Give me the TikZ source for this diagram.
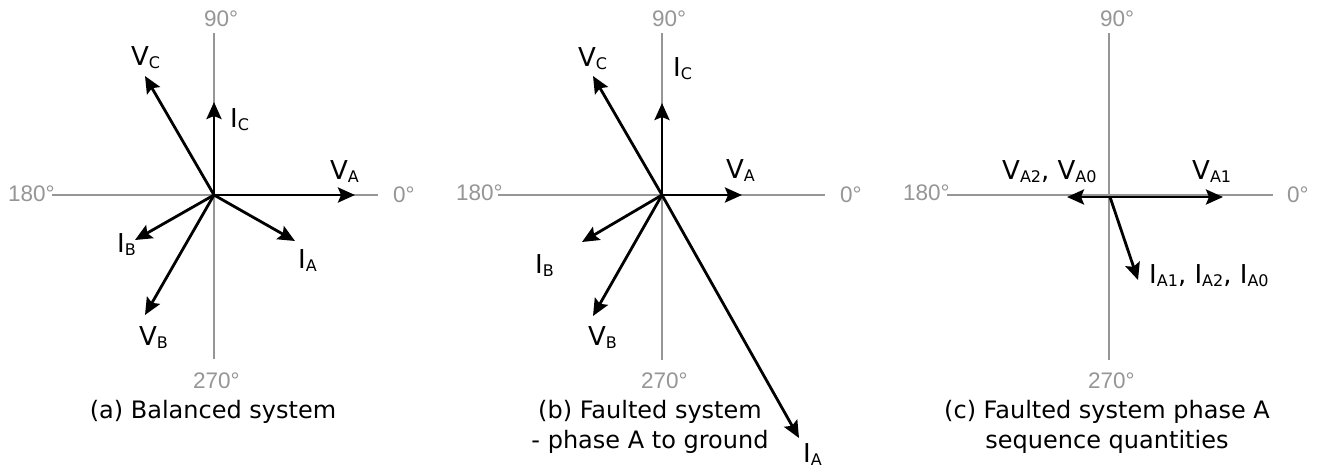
\documentclass[tikz,border=0pt]{standalone}
\usepackage{fontspec}
\setmainfont{DejaVu Sans}
\newfontfamily\degfont{Liberation Sans}
\usetikzlibrary{arrows.meta}
\definecolor{axgray}{RGB}{150,150,150}
\newcommand\phs[2]{#1\raisebox{-3.3pt}{\fontsize{16}{16}\selectfont #2}}
\begin{document}
\begin{tikzpicture}[x=1pt,y=-1pt,
  axis/.style={draw=axgray,line width=1.2pt},
  deg/.style={anchor=base west,inner sep=0pt,text=axgray,font=\degfont\fontsize{22.5}{22.5}\selectfont},
  lab/.style={anchor=base west,inner sep=0pt,font=\fontsize{26}{26}\selectfont},
  captxt/.style={anchor=base,inner sep=0pt,font=\fontsize{24}{24}\selectfont},
  phasor/.style={line width=2.8pt,-{Stealth[length=17pt,width=15pt,inset=3pt]}}]
\useasboundingbox[fill=white] (0,0) rectangle (1319,467);

% ---------------- (a) ----------------
\coordinate (aL) at (52,195); \coordinate (aR) at (378,195);
\coordinate (aT) at (214,33); \coordinate (aB) at (214,359);
\coordinate (oa) at (214,195);
\draw[axis] (aL) -- (aR);
\draw[axis] (aT) -- (aB);
\node[deg] (a90) at (204,26) {90°};
\node[deg] (a180) at (8,201) {180°};
\node[deg] (a0) at (393,202) {0°};
\node[deg] (a270) at (193,388) {270°};
\coordinate (aVA) at (355,195);
\coordinate (aVC) at (145,76);
\coordinate (aIC) at (214,102);
\coordinate (aIA) at (295,241);
\coordinate (aIB) at (135,240);
\coordinate (aVB) at (145,315);
\draw[phasor] (oa) -- (aVA);
\draw[phasor] (oa) -- (aVC);
\draw[phasor] (oa) -- (aIC);
\draw[phasor] (oa) -- (aIA);
\draw[phasor] (oa) -- (aIB);
\draw[phasor] (oa) -- (aVB);
\node[lab] (laVC) at (131,65) {\phs{V}{C}};
\node[lab] (laIC) at (230,127) {\phs{I}{C}};
\node[lab] (laVA) at (330,179) {\phs{V}{A}};
\node[lab] (laIA) at (298,268) {\phs{I}{A}};
\node[lab] (laIB) at (117,252) {\phs{I}{B}};
\node[lab] (laVB) at (139,345) {\phs{V}{B}};
\node[captxt] (capa) at (213,418) {(a) Balanced system};

% ---------------- (b) ----------------
\coordinate (bL) at (498,195); \coordinate (bR) at (825,195);
\coordinate (bT) at (662,33); \coordinate (bB) at (662,360);
\coordinate (ob) at (662,195);
\draw[axis] (bL) -- (bR);
\draw[axis] (bT) -- (bB);
\node[deg] (b90) at (652,26) {90°};
\node[deg] (b180) at (456,200) {180°};
\node[deg] (b0) at (840,202) {0°};
\node[deg] (b270) at (641,388) {270°};
\coordinate (bVA) at (742,195);
\coordinate (bVC) at (593,76);
\coordinate (bIC) at (662,103);
\coordinate (bIA) at (799,438);
\coordinate (bIB) at (582,242);
\coordinate (bVB) at (593,316);
\draw[phasor] (ob) -- (bVA);
\draw[phasor] (ob) -- (bVC);
\draw[phasor] (ob) -- (bIC);
\draw[phasor] (ob) -- (bIA);
\draw[phasor] (ob) -- (bIB);
\draw[phasor] (ob) -- (bVB);
\node[lab] (lbVC) at (578,66) {\phs{V}{C}};
\node[lab] (lbIC) at (673,76) {\phs{I}{C}};
\node[lab] (lbVA) at (726,178) {\phs{V}{A}};
\node[lab] (lbIB) at (535,273) {\phs{I}{B}};
\node[lab] (lbVB) at (588,345) {\phs{V}{B}};
\node[lab] (lbIA) at (803,462) {\phs{I}{A}};
\node[captxt] (capb1) at (650,418) {(b) Faulted system};
\node[captxt] (capb2) at (650,448) {- phase A to ground};

% ---------------- (c) ----------------
\coordinate (cL) at (947,195); \coordinate (cR) at (1273,195);
\coordinate (cT) at (1109,33); \coordinate (cB) at (1109,360);
\coordinate (oc) at (1110,197);
\draw[axis] (cL) -- (cR);
\draw[axis] (cT) -- (cB);
\node[deg] (c90) at (1100,26) {90°};
\node[deg] (c180) at (903,200) {180°};
\node[deg] (c0) at (1287,202) {0°};
\node[deg] (c270) at (1088,388) {270°};
\coordinate (cVA1) at (1223,197);
\coordinate (cVA2) at (1067,197);
\coordinate (cIA) at (1138,280);
\draw[phasor] (oc) -- (cVA1);
\draw[phasor] (oc) -- (cVA2);
\draw[phasor] (oc) -- (cIA);
\node[lab] (lcV2) at (1002,179) {\phs{V}{A2}, \phs{V}{A0}};
\node[lab] (lcV1) at (1192,179) {\phs{V}{A1}};
\node[lab] (lcI) at (1149,283) {\phs{I}{A1}, \phs{I}{A2}, \phs{I}{A0}};
\node[captxt] (capc1) at (1107,418) {(c) Faulted system phase A};
\node[captxt] (capc2) at (1107,448) {sequence quantities};
\end{tikzpicture}
\end{document}
